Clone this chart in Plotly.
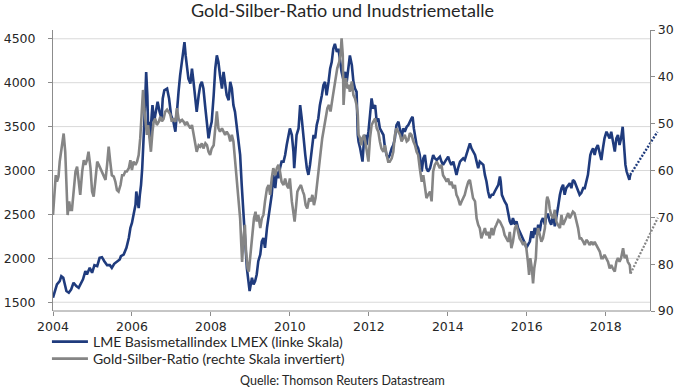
import plotly.graph_objects as go

# ---------------- data ----------------
lmex_years = [
    2004.00, 2004.10, 2004.17, 2004.21, 2004.26, 2004.29, 2004.34, 2004.40, 2004.46, 2004.52,
    2004.59, 2004.65, 2004.71, 2004.76, 2004.82, 2004.86, 2004.93, 2004.99, 2005.05, 2005.12,
    2005.18, 2005.24, 2005.30, 2005.37, 2005.44, 2005.49, 2005.55, 2005.62, 2005.69, 2005.72,
    2005.79, 2005.86, 2005.92, 2005.96, 2006.00, 2006.04, 2006.09, 2006.11, 2006.14, 2006.17,
    2006.20, 2006.23, 2006.26, 2006.29, 2006.31, 2006.34, 2006.36, 2006.39, 2006.41, 2006.44,
    2006.46, 2006.50, 2006.52, 2006.56, 2006.60, 2006.65, 2006.70, 2006.75, 2006.78, 2006.82,
    2006.89, 2006.94, 2006.99, 2007.05, 2007.10, 2007.14, 2007.18, 2007.22, 2007.27, 2007.31,
    2007.33, 2007.36, 2007.39, 2007.43, 2007.48, 2007.52, 2007.56, 2007.60, 2007.64, 2007.69,
    2007.73, 2007.77, 2007.81, 2007.86, 2007.90, 2007.94, 2007.98, 2008.02, 2008.07, 2008.11,
    2008.15, 2008.19, 2008.23, 2008.28, 2008.32, 2008.36, 2008.40, 2008.45, 2008.49, 2008.53,
    2008.57, 2008.61, 2008.66, 2008.70, 2008.74, 2008.78, 2008.82, 2008.87, 2008.91, 2008.95,
    2008.98, 2009.01, 2009.04, 2009.08, 2009.12, 2009.16, 2009.20, 2009.25, 2009.29, 2009.33,
    2009.37, 2009.42, 2009.46, 2009.50, 2009.54, 2009.58, 2009.63, 2009.67, 2009.71, 2009.75,
    2009.79, 2009.84, 2009.88, 2009.92, 2009.96, 2010.00, 2010.05, 2010.09, 2010.11, 2010.13,
    2010.17, 2010.22, 2010.26, 2010.30, 2010.34, 2010.39, 2010.43, 2010.47, 2010.51, 2010.55,
    2010.60, 2010.64, 2010.68, 2010.72, 2010.76, 2010.81, 2010.85, 2010.89, 2010.93, 2010.98,
    2011.02, 2011.06, 2011.10, 2011.14, 2011.19, 2011.23, 2011.27, 2011.31, 2011.35, 2011.40,
    2011.44, 2011.48, 2011.52, 2011.57, 2011.61, 2011.65, 2011.69, 2011.72, 2011.74, 2011.78,
    2011.81, 2011.84, 2011.88, 2011.91, 2011.94, 2011.99, 2012.03, 2012.07, 2012.11, 2012.16,
    2012.20, 2012.24, 2012.28, 2012.32, 2012.37, 2012.41, 2012.45, 2012.49, 2012.53, 2012.58,
    2012.62, 2012.66, 2012.70, 2012.75, 2012.79, 2012.83, 2012.87, 2012.91, 2012.96, 2013.00,
    2013.08, 2013.11, 2013.14, 2013.18, 2013.21, 2013.25, 2013.29, 2013.34, 2013.38, 2013.42,
    2013.46, 2013.50, 2013.55, 2013.59, 2013.63, 2013.67, 2013.72, 2013.76, 2013.80, 2013.84,
    2013.88, 2013.93, 2013.97, 2014.01, 2014.05, 2014.09, 2014.14, 2014.18, 2014.22, 2014.26,
    2014.31, 2014.35, 2014.39, 2014.43, 2014.47, 2014.52, 2014.56, 2014.60, 2014.64, 2014.69,
    2014.73, 2014.77, 2014.81, 2014.85, 2014.90, 2014.94, 2014.98, 2015.02, 2015.06, 2015.11,
    2015.15, 2015.19, 2015.23, 2015.28, 2015.32, 2015.34, 2015.37, 2015.40, 2015.44, 2015.49,
    2015.53, 2015.57, 2015.61, 2015.65, 2015.70, 2015.74, 2015.78, 2015.82, 2015.87, 2015.91,
    2015.95, 2015.99, 2016.03, 2016.08, 2016.12, 2016.16, 2016.20, 2016.25, 2016.29, 2016.33,
    2016.37, 2016.41, 2016.46, 2016.50, 2016.54, 2016.58, 2016.62, 2016.67, 2016.71, 2016.75,
    2016.79, 2016.84, 2016.88, 2016.92, 2016.96, 2017.00, 2017.05, 2017.09, 2017.13, 2017.17,
    2017.21, 2017.26, 2017.30, 2017.34, 2017.38, 2017.43, 2017.47, 2017.51, 2017.55, 2017.58,
    2017.61, 2017.64, 2017.68, 2017.72, 2017.76, 2017.80, 2017.85, 2017.89, 2017.93, 2017.97,
    2018.02, 2018.06, 2018.10, 2018.14, 2018.18, 2018.23, 2018.27, 2018.31, 2018.35, 2018.39,
    2018.43, 2018.45, 2018.48, 2018.50, 2018.53, 2018.56, 2018.60, 2018.62,
]
lmex_values = [
    1552, 1703, 1741, 1797, 1778, 1703, 1627, 1608, 1646, 1722,
    1684, 1665, 1722, 1760, 1854, 1816, 1892, 1835, 1922, 1911,
    2005, 2013, 1967, 1922, 1922, 1892, 1937, 1967, 1986, 2024,
    2043, 2119, 2232, 2346, 2402, 2497, 2610, 2761, 2686, 2572,
    2723, 2837, 3026, 3253, 3517, 3857, 4122, 3857, 3479, 3555,
    3366, 3631, 3744, 3555, 3668, 3782, 3668, 3593, 3820, 3914,
    3933, 3820, 3631, 3555, 3442, 3706, 3895, 4084, 4235, 4387,
    4462, 4311, 4160, 4046, 3990, 4160, 4009, 3857, 3668, 3857,
    3971, 4009, 3933, 3706, 3555, 3366, 3479, 3555, 3857, 4160,
    4311, 4235, 4084, 3933, 4122, 4009, 3857, 3801, 4009, 3933,
    3744, 3668, 3479, 3328, 3177, 2837, 2534, 2194, 1892, 1740,
    1627, 1703, 1778, 1703, 1740, 1816, 1967, 2043, 2194, 2232,
    2119, 2346, 2459, 2610, 2723, 2950, 2799, 2988, 2912, 3026,
    3101, 3101, 3177, 3290, 3404, 3479, 3404, 3215, 3026, 3177,
    3404, 3479, 3744, 3593, 3366, 3177, 3026, 2950, 3064, 3253,
    3404, 3366, 3517, 3593, 3744, 3857, 3971, 4009, 3857, 4009,
    4160, 4235, 4387, 4443, 4349, 4387, 4235, 4122, 4046, 4122,
    4009, 4198, 4311, 4198, 4009, 3933, 3895, 3404, 3328, 3253,
    3177, 3101, 3366, 3404, 3290, 3442, 3631, 3820, 3706, 3744,
    3555, 3593, 3479, 3442, 3404, 3253, 3177, 3139, 3177, 3253,
    3290, 3366, 3517, 3555, 3479, 3366, 3479, 3442, 3498, 3517,
    3593, 3612, 3479, 3366, 3290, 3253, 3177, 2988, 3139, 3177,
    3026, 2988, 3026, 3101, 3177, 3139, 3120, 3139, 3158, 3101,
    3064, 3101, 3139, 3158, 3101, 3064, 3101, 3026, 2950, 3026,
    3101, 3120, 3139, 3120, 3177, 3253, 3309, 3253, 3215, 3177,
    3101, 3026, 3101, 3082, 3064, 2950, 2875, 2761, 2686, 2723,
    2723, 2761, 2799, 2837, 2931, 2875, 2723, 2686, 2648, 2610,
    2534, 2421, 2383, 2459, 2383, 2421, 2346, 2308, 2270, 2232,
    2175, 2119, 2157, 2194, 2308, 2232, 2346, 2270, 2383, 2308,
    2421, 2459, 2383, 2497, 2497, 2421, 2383, 2497, 2364, 2459,
    2572, 2723, 2799, 2837, 2723, 2799, 2837, 2856, 2799, 2893,
    2875, 2818, 2761, 2723, 2742, 2799, 2799, 2875, 2950, 3064,
    3177, 3215, 3253, 3177, 3253, 3290, 3177, 3120, 3253, 3366,
    3442, 3404, 3366, 3442, 3328, 3215, 3366, 3404, 3290, 3366,
    3498, 3328, 3177, 3064, 2988, 2950, 2893, 2950,
]

gsr_years = [
    2004.00, 2004.04, 2004.07, 2004.10, 2004.14, 2004.17, 2004.20, 2004.24, 2004.27, 2004.31,
    2004.34, 2004.37, 2004.41, 2004.44, 2004.48, 2004.52, 2004.57, 2004.61, 2004.65, 2004.69,
    2004.74, 2004.78, 2004.82, 2004.86, 2004.90, 2004.95, 2004.99, 2005.03, 2005.07, 2005.12,
    2005.16, 2005.20, 2005.24, 2005.28, 2005.33, 2005.37, 2005.41, 2005.45, 2005.49, 2005.54,
    2005.58, 2005.62, 2005.66, 2005.71, 2005.75, 2005.79, 2005.83, 2005.87, 2005.92, 2005.96,
    2006.00, 2006.04, 2006.09, 2006.13, 2006.17, 2006.21, 2006.25, 2006.28, 2006.31, 2006.35,
    2006.38, 2006.41, 2006.45, 2006.48, 2006.52, 2006.55, 2006.59, 2006.63, 2006.68, 2006.72,
    2006.76, 2006.80, 2006.84, 2006.89, 2006.93, 2006.97, 2007.01, 2007.05, 2007.10, 2007.14,
    2007.18, 2007.22, 2007.27, 2007.31, 2007.35, 2007.39, 2007.43, 2007.48, 2007.52, 2007.56,
    2007.60, 2007.64, 2007.69, 2007.73, 2007.77, 2007.81, 2007.86, 2007.90, 2007.94, 2007.98,
    2008.02, 2008.07, 2008.11, 2008.15, 2008.19, 2008.23, 2008.28, 2008.32, 2008.36, 2008.40,
    2008.45, 2008.49, 2008.53, 2008.57, 2008.61, 2008.66, 2008.70, 2008.74, 2008.77, 2008.79,
    2008.83, 2008.86, 2008.89, 2008.93, 2008.96, 2008.99, 2009.03, 2009.06, 2009.09, 2009.13,
    2009.16, 2009.20, 2009.25, 2009.29, 2009.33, 2009.37, 2009.42, 2009.46, 2009.50, 2009.54,
    2009.58, 2009.63, 2009.67, 2009.71, 2009.75, 2009.79, 2009.84, 2009.88, 2009.92, 2009.96,
    2010.00, 2010.05, 2010.09, 2010.12, 2010.16, 2010.19, 2010.23, 2010.28, 2010.33, 2010.36,
    2010.40, 2010.44, 2010.49, 2010.53, 2010.57, 2010.61, 2010.65, 2010.70, 2010.74, 2010.78,
    2010.82, 2010.87, 2010.91, 2010.95, 2010.99, 2011.03, 2011.08, 2011.12, 2011.16, 2011.20,
    2011.25, 2011.29, 2011.31, 2011.34, 2011.36, 2011.39, 2011.42, 2011.46, 2011.49, 2011.52,
    2011.57, 2011.61, 2011.65, 2011.69, 2011.72, 2011.74, 2011.78, 2011.81, 2011.84, 2011.88,
    2011.91, 2011.94, 2011.99, 2012.03, 2012.07, 2012.11, 2012.16, 2012.20, 2012.24, 2012.28,
    2012.32, 2012.37, 2012.41, 2012.45, 2012.49, 2012.53, 2012.58, 2012.62, 2012.66, 2012.70,
    2012.75, 2012.79, 2012.83, 2012.87, 2012.91, 2012.96, 2013.00, 2013.04, 2013.08, 2013.13,
    2013.17, 2013.21, 2013.25, 2013.29, 2013.34, 2013.38, 2013.42, 2013.46, 2013.50, 2013.55,
    2013.59, 2013.63, 2013.67, 2013.72, 2013.76, 2013.80, 2013.84, 2013.88, 2013.93, 2013.97,
    2014.01, 2014.05, 2014.09, 2014.14, 2014.18, 2014.22, 2014.26, 2014.31, 2014.35, 2014.39,
    2014.43, 2014.47, 2014.52, 2014.56, 2014.60, 2014.64, 2014.69, 2014.73, 2014.77, 2014.81,
    2014.85, 2014.90, 2014.94, 2014.98, 2015.02, 2015.06, 2015.11, 2015.15, 2015.19, 2015.23,
    2015.28, 2015.32, 2015.36, 2015.40, 2015.44, 2015.49, 2015.53, 2015.57, 2015.61, 2015.65,
    2015.70, 2015.74, 2015.78, 2015.82, 2015.87, 2015.91, 2015.95, 2015.99, 2016.03, 2016.06,
    2016.09, 2016.13, 2016.16, 2016.19, 2016.23, 2016.26, 2016.29, 2016.33, 2016.37, 2016.41,
    2016.46, 2016.50, 2016.52, 2016.56, 2016.58, 2016.62, 2016.67, 2016.71, 2016.75, 2016.79,
    2016.84, 2016.88, 2016.92, 2016.96, 2017.00, 2017.05, 2017.09, 2017.13, 2017.17, 2017.21,
    2017.26, 2017.30, 2017.34, 2017.38, 2017.43, 2017.47, 2017.51, 2017.55, 2017.59, 2017.64,
    2017.68, 2017.72, 2017.76, 2017.80, 2017.85, 2017.89, 2017.93, 2017.97, 2018.02, 2018.06,
    2018.10, 2018.14, 2018.18, 2018.23, 2018.27, 2018.31, 2018.35, 2018.39, 2018.44, 2018.48,
    2018.52, 2018.56, 2018.61, 2018.63,
]
gsr_values = [
    69.5, 63.8, 61.0, 62.4, 61.3, 58.1, 56.0, 54.2, 52.1, 56.0,
    63.8, 69.5, 66.6, 68.4, 68.4, 64.5, 60.2, 59.2, 61.7, 65.2,
    60.2, 57.8, 58.8, 57.8, 56.0, 59.5, 64.5, 65.6, 62.4, 58.1,
    58.8, 59.5, 60.2, 61.0, 62.0, 58.8, 54.9, 58.1, 61.0, 61.3,
    62.4, 64.2, 64.5, 63.1, 61.0, 61.0, 60.2, 60.2, 59.5, 57.8,
    59.9, 58.1, 58.8, 58.1, 56.7, 53.1, 48.1, 42.8, 46.7, 51.0,
    52.4, 50.3, 53.1, 56.0, 51.7, 49.6, 48.9, 50.3, 49.6, 48.5,
    49.5, 49.0, 47.5, 47.0, 47.5, 48.0, 49.6, 48.9, 49.6, 46.7,
    48.9, 49.6, 49.2, 49.6, 50.3, 49.6, 50.3, 51.0, 50.3, 52.4,
    54.6, 56.0, 54.6, 54.9, 54.2, 55.3, 54.2, 54.6, 56.0, 56.7,
    55.3, 54.6, 51.0, 47.4, 51.0, 51.7, 51.0, 51.7, 52.4, 51.7,
    52.4, 53.8, 52.4, 53.8, 58.1, 61.7, 66.6, 70.2, 75.9, 79.5,
    73.8, 71.6, 77.3, 80.9, 81.6, 78.7, 75.2, 72.3, 70.2, 68.8,
    70.9, 69.5, 72.3, 70.2, 69.5, 66.6, 63.8, 63.1, 65.2, 61.7,
    59.5, 61.0, 59.5, 58.8, 60.2, 62.4, 63.1, 61.7, 63.1, 63.8,
    61.7, 66.6, 69.5, 70.9, 67.4, 64.5, 63.8, 63.1, 64.5, 65.2,
    67.4, 68.1, 65.9, 66.6, 65.2, 67.4, 65.9, 61.7, 58.1, 56.0,
    53.1, 50.3, 48.1, 46.7, 46.0, 47.4, 44.6, 42.5, 40.3, 38.2,
    36.8, 34.6, 31.8, 35.3, 46.0, 41.7, 40.3, 42.5, 41.7, 43.2,
    41.0, 43.9, 44.6, 46.0, 48.1, 52.4, 53.1, 54.6, 53.1, 52.4,
    53.8, 55.3, 58.1, 53.1, 50.3, 49.6, 48.9, 51.0, 51.7, 53.8,
    55.3, 56.0, 54.6, 56.7, 58.1, 58.1, 57.4, 56.0, 52.4, 51.0,
    51.7, 52.4, 53.8, 53.1, 52.4, 53.8, 53.5, 52.0, 52.4, 53.8,
    54.6, 56.0, 56.7, 59.5, 62.4, 61.0, 63.1, 65.9, 65.2, 64.5,
    66.6, 60.2, 58.8, 58.1, 58.8, 59.5, 58.8, 61.0, 61.7, 62.4,
    61.7, 63.1, 62.4, 63.8, 63.1, 65.2, 65.9, 67.4, 66.6, 65.9,
    65.2, 63.8, 62.4, 62.0, 63.8, 65.9, 66.6, 70.2, 71.6, 72.3,
    74.5, 73.1, 72.3, 73.8, 73.1, 74.5, 72.3, 73.8, 72.3, 71.6,
    70.6, 70.9, 71.6, 72.3, 73.8, 74.5, 75.2, 73.1, 76.6, 75.2,
    72.3, 71.6, 73.1, 74.5, 75.2, 75.9, 75.2, 76.6, 79.5, 82.3,
    78.7, 80.9, 84.1, 80.9, 78.7, 73.8, 72.3, 73.8, 75.2, 74.5,
    72.3, 66.6, 65.6, 66.6, 68.1, 69.5, 70.2, 68.4, 70.9, 71.6,
    72.3, 69.5, 71.6, 70.9, 70.2, 69.1, 70.2, 69.5, 68.8, 69.1,
    70.9, 72.3, 74.5, 74.5, 75.2, 75.9, 74.8, 75.2, 75.9, 75.2,
    75.9, 75.2, 75.9, 76.6, 77.3, 78.7, 78.7, 78.0, 78.7, 79.5,
    80.9, 80.2, 80.9, 81.6, 79.5, 78.7, 79.5, 78.7, 76.6, 78.7,
    78.0, 79.5, 80.2, 82.0,
]

# dotted outlook arrows (start = last observation, end = arrow tip)
lmex_outlook_years = [2018.62, 2019.31]
lmex_outlook_values = [2950, 3440]
gsr_outlook_years = [2018.63, 2019.32]
gsr_outlook_values = [82.0, 70.1]

x_tick_values = [2004, 2006, 2008, 2010, 2012, 2014, 2016, 2018]
x_tick_labels = ["2004", "2006", "2008", "2010", "2012", "2014", "2016", "2018"]
left_tick_values = [1500, 2000, 2500, 3000, 3500, 4000, 4500]
right_tick_values = [30, 40, 50, 60, 70, 80, 90]

# ---------------- styling ----------------
BLUE = "#1f3b7d"
GRAY = "#858585"
AXIS = "#8c8c8c"
GRID = "#d9d9d9"
TEXT = "#262626"
TICK_FONT = dict(family="DejaVu Sans", size=12.5, color=TEXT)
TEXT_FONT = "Lato"

x_start, x_axis_end, x_range_end = 2004, 2019.13, 2019.35
left_range = [1400, 4600]
right_range = [90, 30]

fig = go.Figure()
fig.add_trace(go.Scatter(
    x=lmex_years, y=lmex_values, mode="lines",
    line=dict(color=BLUE, width=2.6),
    name="LME Basismetallindex LMEX (linke Skala)", legend="legend", yaxis="y",
))
fig.add_trace(go.Scatter(
    x=gsr_years, y=gsr_values, mode="lines",
    line=dict(color=GRAY, width=2.6),
    name="Gold-Silber-Ratio (rechte Skala invertiert)", legend="legend2", yaxis="y2",
))
fig.add_trace(go.Scatter(
    x=lmex_outlook_years, y=lmex_outlook_values, mode="lines",
    line=dict(color=BLUE, width=2.4, dash="2px,1.6px"), showlegend=False, yaxis="y",
))
fig.add_trace(go.Scatter(
    x=gsr_outlook_years, y=gsr_outlook_values, mode="lines",
    line=dict(color=GRAY, width=2.2, dash="2px,1.6px"), showlegend=False, yaxis="y2",
))

# arrowheads at the outlook tips
def head(xs, ys, yref, color):
    frac = 0.1
    return dict(
        x=xs[1], y=ys[1], xref="x", yref=yref,
        ax=xs[1] - frac * (xs[1] - xs[0]), ay=ys[1] - frac * (ys[1] - ys[0]),
        axref="x", ayref=yref, showarrow=True, arrowhead=5, arrowsize=1.3,
        arrowwidth=2, arrowcolor=color, text="",
    )

annotations = [
    head(lmex_outlook_years, lmex_outlook_values, "y", BLUE),
    head(gsr_outlook_years, gsr_outlook_values, "y2", GRAY),
    dict(text="Quelle: Thomson Reuters Datastream", xref="paper", yref="paper",
         x=0.4785, y=-0.249, xanchor="center", yanchor="middle", showarrow=False,
         font=dict(family=TEXT_FONT, size=12.5, color=TEXT)),
]

shapes = [
    dict(type="line", xref="x", yref="y", x0=x_start, x1=x_axis_end, y0=v, y1=v,
         line=dict(color=GRID, width=1), layer="below")
    for v in left_tick_values
]
shapes.append(dict(type="line", xref="x", yref="paper", x0=x_start, x1=x_axis_end, y0=0, y1=0,
                   line=dict(color=AXIS, width=1), layer="above"))

right_pos = (x_axis_end - x_start) / (x_range_end - x_start)
legend_font = dict(family=TEXT_FONT, size=14, color=TEXT)

fig.update_layout(
    width=685, height=389,
    margin=dict(l=53, r=26, t=30, b=78, autoexpand=False),
    paper_bgcolor="white", plot_bgcolor="white",
    title=dict(text="Gold-Silber-Ratio und Inudstriemetalle", x=0.5, xref="container",
               y=1 - 11 / 389, yref="container", xanchor="center", yanchor="middle",
               font=dict(family=TEXT_FONT, size=18, color=TEXT)),
    xaxis=dict(range=[x_start, x_range_end], tickvals=x_tick_values, ticktext=x_tick_labels,
               ticks="outside", ticklen=4, tickcolor=AXIS, showgrid=False, showline=False,
               zeroline=False, tickfont=TICK_FONT),
    yaxis=dict(range=left_range, tickvals=left_tick_values, ticks="outside", ticklen=4,
               tickcolor=AXIS, showline=True, linecolor=AXIS, linewidth=1, showgrid=False,
               zeroline=False, tickfont=TICK_FONT, ticklabelstandoff=10),
    yaxis2=dict(range=right_range, tickvals=right_tick_values, overlaying="y", side="right",
                anchor="free", position=right_pos, ticks="outside", ticklen=4, tickcolor=AXIS,
                showline=True, linecolor=AXIS, linewidth=1, showgrid=False, zeroline=False,
                tickfont=TICK_FONT),
    legend=dict(x=-0.01, y=-0.1103, xanchor="left", yanchor="middle", itemwidth=36,
                font=legend_font, bgcolor="rgba(0,0,0,0)"),
    legend2=dict(x=-0.01, y=-0.1708, xanchor="left", yanchor="middle", itemwidth=36,
                 font=legend_font, bgcolor="rgba(0,0,0,0)"),
    annotations=annotations,
    shapes=shapes,
    showlegend=True,
)

fig.write_html("out.html", config={"displayModeBar": False},
               post_script="document.body.style.margin='0px';")
